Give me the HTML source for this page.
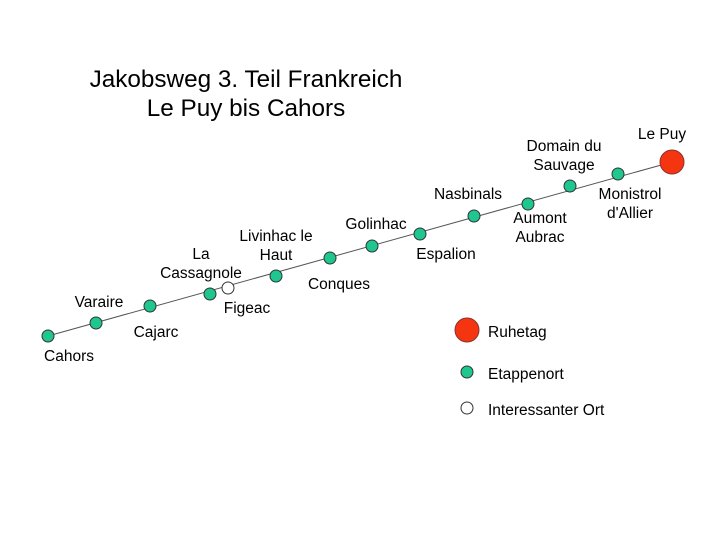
<!DOCTYPE html>
<html><head><meta charset="utf-8"><style>
body{margin:0;background:#fff}
svg text{font-family:"Liberation Sans",Arial,sans-serif;fill:#000}
</style></head><body>
<svg width="720" height="540" viewBox="0 0 720 540" xmlns="http://www.w3.org/2000/svg">
<rect width="720" height="540" fill="#fff"/>
<text x="246" y="87" font-size="24.3" text-anchor="middle">Jakobsweg 3. Teil Frankreich</text>
<text x="246" y="116" font-size="24.3" text-anchor="middle">Le Puy bis Cahors</text>
<line x1="48" y1="336" x2="672" y2="162" stroke="#555" stroke-width="1"/>
<g fill="#1ec690" stroke="#333" stroke-width="1">
<circle cx="48" cy="336" r="6"/>
<circle cx="96" cy="323" r="6"/>
<circle cx="150" cy="306" r="6"/>
<circle cx="210" cy="294" r="6"/>
<circle cx="276" cy="276" r="6"/>
<circle cx="330" cy="258" r="6"/>
<circle cx="372" cy="246" r="6"/>
<circle cx="420" cy="234" r="6"/>
<circle cx="474" cy="216" r="6"/>
<circle cx="528" cy="204" r="6"/>
<circle cx="570" cy="186" r="6"/>
<circle cx="618" cy="174" r="6"/>
<circle cx="467" cy="372" r="6"/>
</g>
<circle cx="228" cy="288" r="6" fill="#fff" stroke="#333"/>
<circle cx="467" cy="408" r="6" fill="#fff" stroke="#333"/>
<circle cx="672" cy="162" r="12" fill="#f53510" stroke="#833"/>
<circle cx="467" cy="330" r="12" fill="#f53510" stroke="#833"/>
<g font-size="15.5" text-anchor="middle">
<text x="69" y="361">Cahors</text>
<text x="99" y="307">Varaire</text>
<text x="156" y="337">Cajarc</text>
<text x="201" y="259">La</text>
<text x="201" y="278">Cassagnole</text>
<text x="247" y="313">Figeac</text>
<text x="276" y="241">Livinhac le</text>
<text x="276" y="260">Haut</text>
<text x="339" y="289">Conques</text>
<text x="376" y="229">Golinhac</text>
<text x="446" y="259">Espalion</text>
<text x="468" y="199">Nasbinals</text>
<text x="540" y="223">Aumont</text>
<text x="540" y="242">Aubrac</text>
<text x="564" y="151">Domain du</text>
<text x="564" y="170">Sauvage</text>
<text x="630" y="199">Monistrol</text>
<text x="630" y="218">d'Allier</text>
<text x="662" y="139">Le Puy</text>
</g>
<g font-size="15.5">
<text x="488" y="337">Ruhetag</text>
<text x="488" y="379">Etappenort</text>
<text x="488" y="415">Interessanter Ort</text>
</g>
</svg>
</body></html>
